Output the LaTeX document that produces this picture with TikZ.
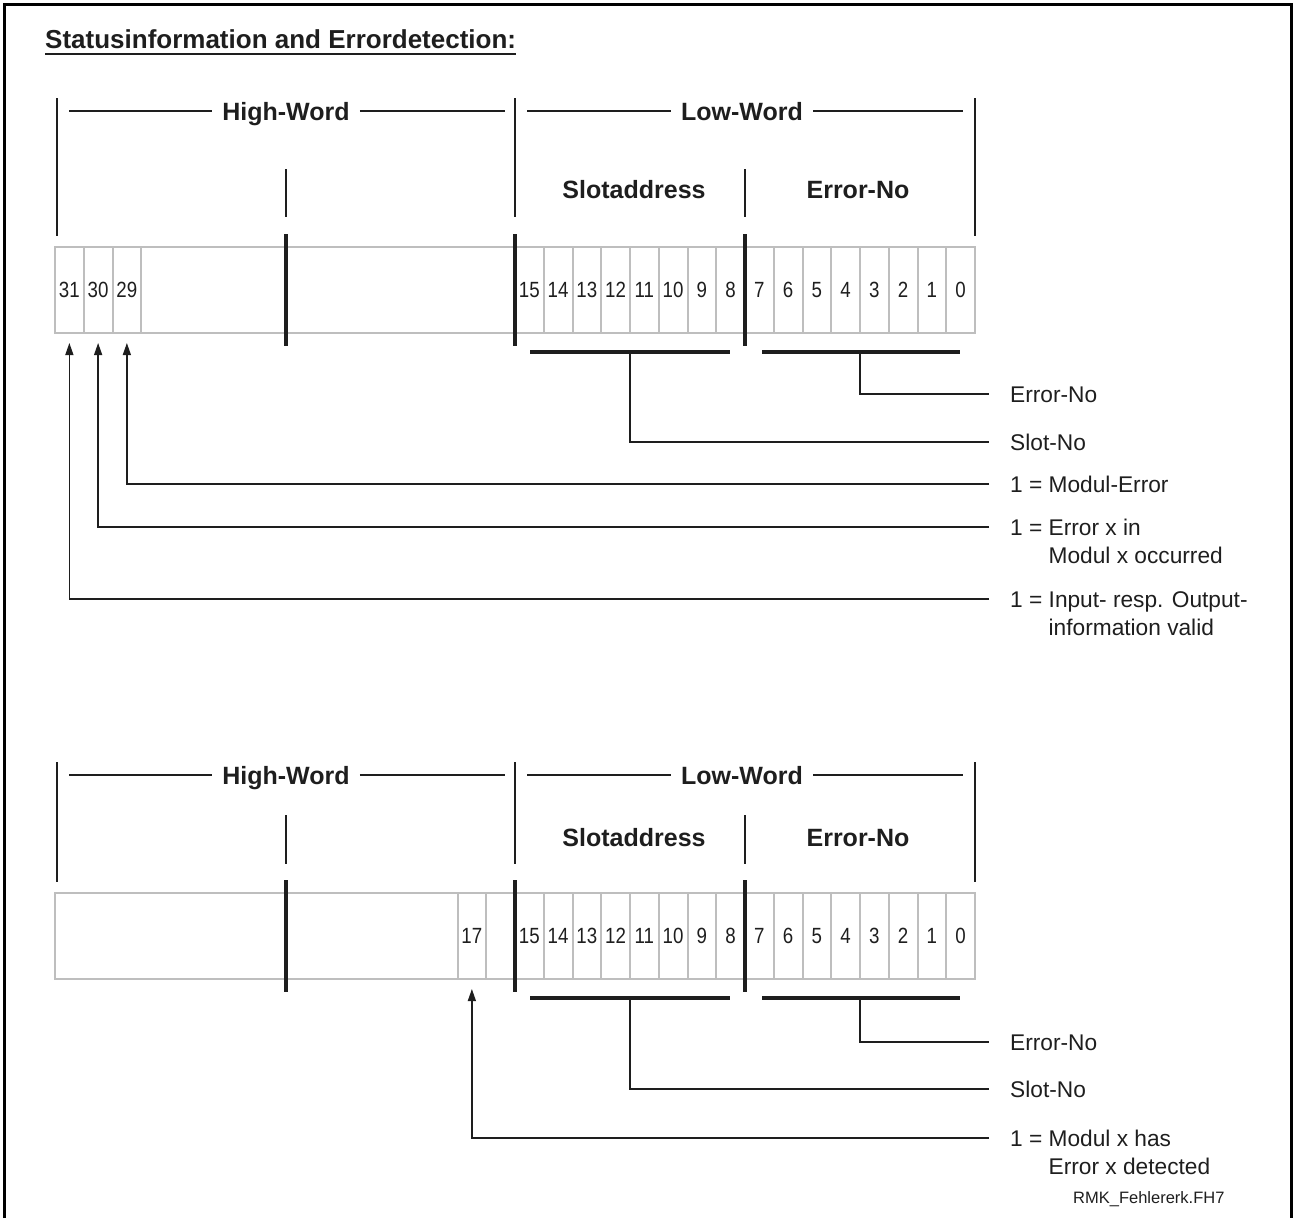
\documentclass[tikz,border=0pt]{standalone}
\usepackage{fontspec}
\setmainfont{Liberation Sans}
\newfontfamily\bitfont[FakeStretch=0.85]{Liberation Sans}
\usetikzlibrary{arrows.meta, positioning}
\definecolor{CellGray}{RGB}{190,190,190}
\definecolor{InkBlack}{RGB}{30,30,30}
\newcommand{\bitnote}[2]{\begin{tabular}[t]{@{}l@{}l@{}}1 =\ \mbox{} & #1\\ & #2\end{tabular}}

\begin{document}
\begin{tikzpicture}[x=1pt, y=-1pt,
	cell/.style={draw=CellGray, line width=2pt, minimum width=28.75pt, minimum height=86pt, inner sep=0pt,
		font=\bitfont\fontsize{22}{22}\selectfont, text=InkBlack},
	reg/.style={draw=CellGray, line width=2pt},
	hdr/.style={anchor=base, font=\bfseries\fontsize{25}{25}\selectfont, text=InkBlack, inner xsep=10pt, inner ysep=0pt},
	lbl/.style={anchor=base west, xshift=21pt, yshift=-8pt, inner sep=0pt,
		font=\fontsize{22.7}{28}\selectfont, text=InkBlack},
	ln/.style={line width=1.3pt, InkBlack},
	bar/.style={line width=3.5pt, InkBlack},
	ubar/.style={line width=4.5pt, InkBlack},
	arr/.style={ln, -{Triangle[length=12pt, width=8pt]}}]
	\useasboundingbox (0,0) rectangle (1295,1218);
	\draw[line width=3pt, black] (4,1218) -- (4,4) -- (1291,4) -- (1291,1218);

	% title
	\node[anchor=base west, inner sep=0pt, font=\bfseries\fontsize{26}{26}\selectfont, text=InkBlack] (title) at (45,48) {Statusinformation and Errordetection:};
	\draw[ln] ([yshift=-6pt]title.base west) -- ([yshift=-6pt]title.base east);

	% ---------- upper word layout ----------
	\draw[ln] (57,98) -- (57,236); \draw[ln] (975,98) -- (975,236);
	\draw[ln] (515,98) -- (515,217);
	\draw[ln] (286,169) -- (286,217); \draw[ln] (745,169) -- (745,217);
	\node[hdr] (thw) at (286,120) {High-Word};
	\node[hdr] (tlw) at (742,120) {Low-Word};
	\draw[ln] (69,111) -- (thw.west |- 0,111); \draw[ln] (thw.east |- 0,111) -- (505,111);
	\draw[ln] (527,111) -- (tlw.west |- 0,111); \draw[ln] (tlw.east |- 0,111) -- (963,111);
	\node[hdr] (tsa) at (634,198) {Slotaddress};
	\node[hdr] (ten) at (858,198) {Error-No};

	\draw[reg] (55,247) rectangle (975,333);
	\foreach \b in {31,30,29,15,14,...,0}
		\node[cell] (t\b) at ({55+(31.5-\b)*28.75},290) {\b};
	\foreach \x in {286,515,745}
		\draw[bar] (\x,234) -- (\x,346);

	\draw[ubar] (530,352) -- (730,352);
	\draw[ubar] (762,352) -- (960,352);
	\coordinate (tslot) at (630,352);
	\coordinate (terr) at (860,352);
	\coordinate (te1) at (989,394);
	\coordinate (te2) at (989,442);
	\coordinate (te3) at (989,484);
	\coordinate (te4) at (989,527);
	\coordinate (te5) at (989,599);
	\node[lbl] (tl1) at (te1) {Error-No};
	\node[lbl] (tl2) at (te2) {Slot-No};
	\node[lbl] (tl3) at (te3) {1 = Modul-Error};
	\node[lbl] (tl4) at (te4) {\bitnote{Error x in}{Modul x occurred}};
	\node[lbl] (tl5) at (te5) {\bitnote{Input- resp. Output-}{information valid}};
	\draw[ln] (terr) |- (te1);
	\draw[ln] (tslot) |- (te2);
	\draw[arr] (te3) -| ([yshift=-9pt]t29.south);
	\draw[arr] (te4) -| ([yshift=-9pt]t30.south);
	\draw[arr] (te5) -| ([yshift=-9pt]t31.south);

	% ---------- lower word layout ----------
	\draw[ln] (57,762) -- (57,882); \draw[ln] (975,762) -- (975,882);
	\draw[ln] (515,762) -- (515,864);
	\draw[ln] (286,815) -- (286,864); \draw[ln] (745,815) -- (745,864);
	\node[hdr] (bhw) at (286,784) {High-Word};
	\node[hdr] (blw) at (742,784) {Low-Word};
	\draw[ln] (69,775) -- (bhw.west |- 0,775); \draw[ln] (bhw.east |- 0,775) -- (505,775);
	\draw[ln] (527,775) -- (blw.west |- 0,775); \draw[ln] (blw.east |- 0,775) -- (963,775);
	\node[hdr] (bsa) at (634,846) {Slotaddress};
	\node[hdr] (ben) at (858,846) {Error-No};

	\draw[reg] (55,893) rectangle (975,979);
	\foreach \b in {17,16,15,14,...,0}
		\node[cell] (b\b) at ({55+(31.5-\b)*28.75},936) {\ifnum\b=16\else\b\fi};
	\foreach \x in {286,515,745}
		\draw[bar] (\x,880) -- (\x,992);

	\draw[ubar] (530,998) -- (730,998);
	\draw[ubar] (762,998) -- (960,998);
	\coordinate (bslot) at (630,998);
	\coordinate (berr) at (860,998);
	\coordinate (be1) at (989,1042);
	\coordinate (be2) at (989,1089);
	\coordinate (be3) at (989,1138);
	\node[lbl] (bl1) at (be1) {Error-No};
	\node[lbl] (bl2) at (be2) {Slot-No};
	\node[lbl] (bl3) at (be3) {\bitnote{Modul x has}{Error x detected}};
	\draw[ln] (berr) |- (be1);
	\draw[ln] (bslot) |- (be2);
	\draw[arr] (be3) -| ([yshift=-9pt]b17.south);

	\node[anchor=base west, inner sep=0pt, font=\fontsize{16.5}{16.5}\selectfont, text=InkBlack] (fname) at (1073,1203) {RMK\_Fehlererk.FH7};
\end{tikzpicture}
\end{document}
